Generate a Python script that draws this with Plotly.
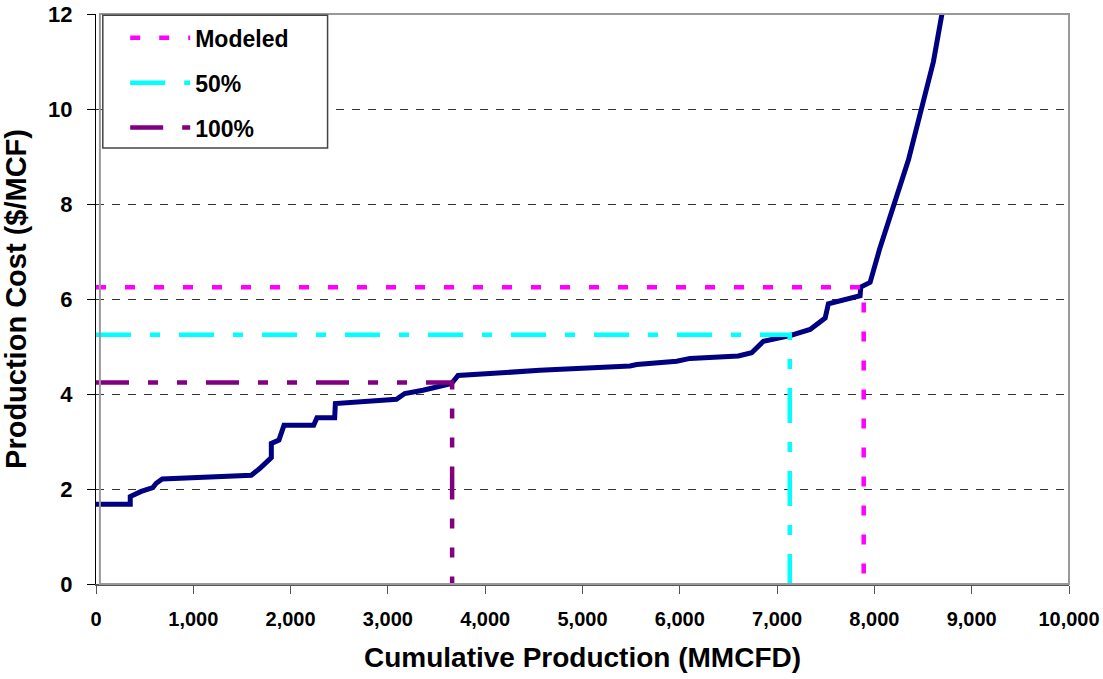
import plotly.graph_objects as go

# Supply curve: cumulative production (MMCFD) vs production cost ($/MCF)
cum_prod = [0, 352, 352, 465, 584, 619, 681, 1596, 1682, 1802, 1802, 1880, 1932,
            2237, 2271, 2453, 2460, 3088, 3173, 3361, 3654, 3721, 4048, 4493,
            4562, 5488, 5557, 5968, 6105, 6602, 6739, 6859, 7133, 7339, 7494,
            7527, 7853, 7860, 7956, 8052, 8213, 8350, 8607, 8694]
cost = [1.68, 1.68, 1.84, 1.95, 2.03, 2.12, 2.21, 2.29, 2.43, 2.66, 2.96, 3.03,
        3.34, 3.34, 3.50, 3.50, 3.80, 3.89, 4.01, 4.08, 4.22, 4.39, 4.43, 4.47,
        4.50, 4.59, 4.62, 4.69, 4.75, 4.80, 4.87, 5.11, 5.23, 5.36, 5.60, 5.90,
        6.07, 6.25, 6.35, 7.04, 8.02, 8.93, 11.0, 12.0]

# Reference cases: (name, production at crossing, cost at crossing)
case_names = ['Modeled', '50%', '100%']
case_prod = [7890, 7130, 3660]
case_cost = [6.25, 5.25, 4.24]
case_colors = ['#FF00FF', '#00FFFF', '#800080']
case_dash = ['10px,19px', '35px,19px,10px,19px', '33px,19px,10px,19px,10px,19px']

x_ticks = list(range(0, 10001, 1000))
y_ticks = list(range(0, 13, 2))

fig = go.Figure()

# Curve
fig.add_trace(go.Scatter(
    x=cum_prod, y=cost,
    mode='lines',
    line=dict(color='#000080', width=5),
    showlegend=False,
    hoverinfo='skip'
))

# Case lines: from y axis across to the curve, then down to x axis
for name, xp, yc, col, dash in zip(case_names, case_prod, case_cost, case_colors, case_dash):
    fig.add_trace(go.Scatter(
        x=[0, xp, xp], y=[yc, yc, 0],
        mode='lines',
        name=name,
        legendgroup=name,
        line=dict(color=col, width=4.5, dash=dash),
        hoverinfo='skip'
    ))

# Plot frame (gray top/right) and legend box
fig.add_shape(type='rect', xref='paper', yref='paper',
              x0=0.004, x1=1, y0=0, y1=1,
              line=dict(color='#999999', width=2), fillcolor='rgba(0,0,0,0)',
              layer='above')
fig.add_shape(type='rect', xref='paper', yref='paper',
              x0=0.007, x1=0.238, y0=0.765, y1=0.998,
              line=dict(color='#444', width=1.5), fillcolor='white', layer='above')

fig.update_layout(
    width=1103, height=679,
    margin=dict(l=96, r=34, t=14, b=95),
    plot_bgcolor='white',
    paper_bgcolor='white',
    font=dict(family='Liberation Sans, Arial', color='black'),
    showlegend=True,
    legend=dict(
        x=0.03, y=0.996, xanchor='left', yanchor='top',
        bgcolor='rgba(0,0,0,0)', borderwidth=0,
        font=dict(size=23, family='Liberation Sans, Arial', weight='bold'),
        tracegroupgap=12,
        itemwidth=60,
    ),
    xaxis=dict(
        range=[0, 10000],
        tickvals=x_ticks,
        tickformat=',d',
        showgrid=False,
        zeroline=False,
        showline=True, linecolor='#555', linewidth=2,
        ticks='outside', ticklen=8, tickcolor='#555',
        tickfont=dict(size=20, weight='bold'),
        ticklabelstandoff=8,
        ticklabeloverflow='allow',
        automargin=False,
        title=dict(text='Cumulative Production (MMCFD)',
                   font=dict(size=28, weight='bold'), standoff=18),
    ),
    yaxis=dict(
        range=[0, 12],
        tickvals=y_ticks,
        showgrid=True, gridcolor='#333', gridwidth=1, griddash='8px,8px',
        zeroline=False,
        showline=True, linecolor='black', linewidth=1,
        ticks='outside', ticklen=8, tickcolor='black',
        tickfont=dict(size=22, weight='bold'),
        ticklabelstandoff=10,
        ticklabeloverflow='allow',
        automargin=False,
        title=dict(text='Production Cost ($/MCF)',
                   font=dict(size=29, weight='bold'), standoff=14),
    ),
)

# drop the default 8px page margin so the figure fills the window exactly
fig.write_html('out.html', config={'displayModeBar': False},
               post_script="document.body.style.margin='0';")
